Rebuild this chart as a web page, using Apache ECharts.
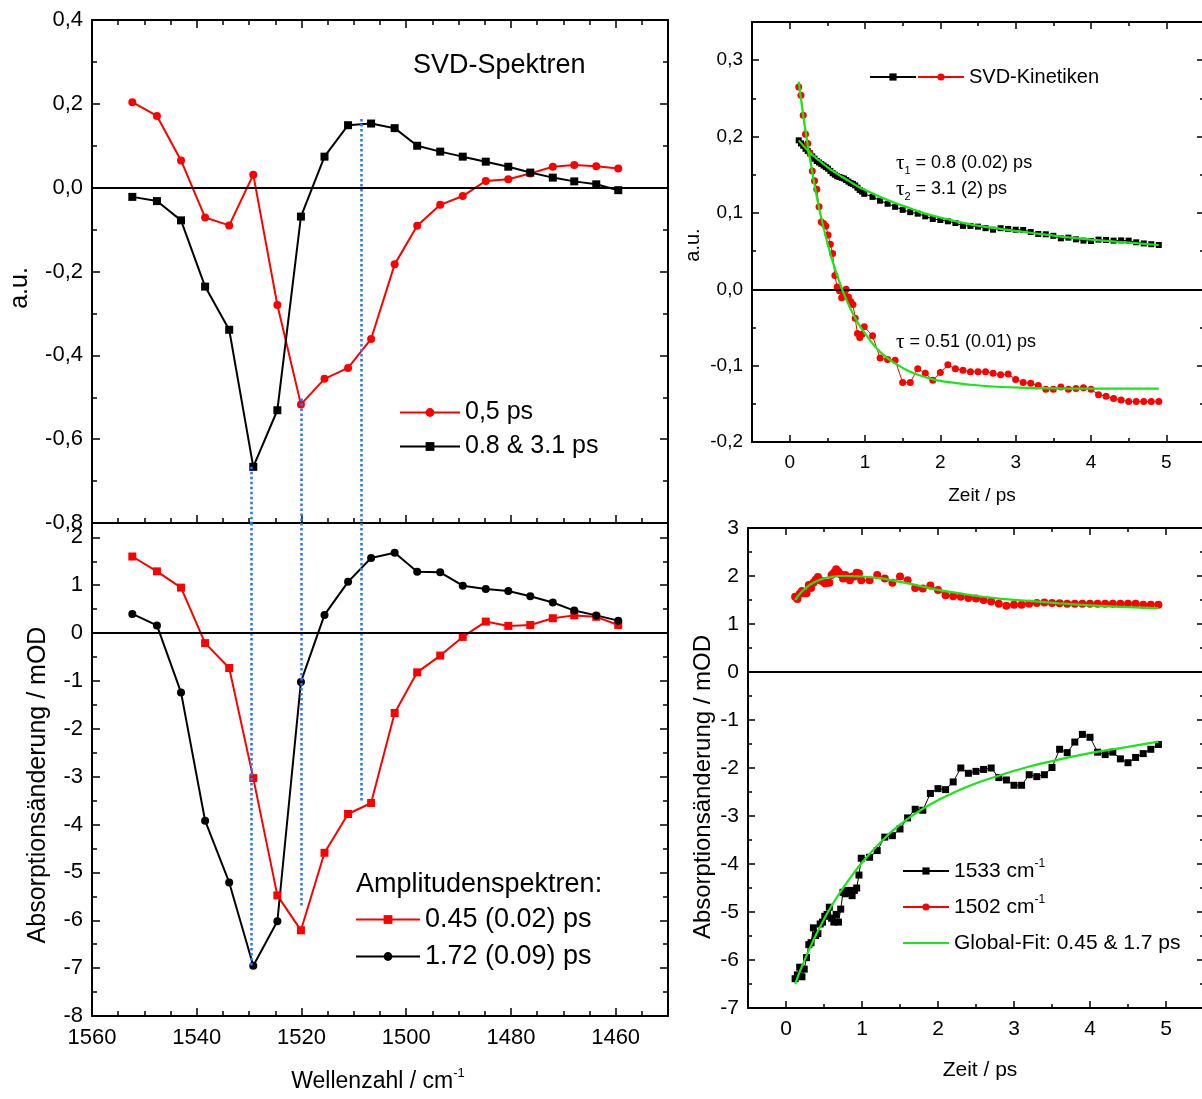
<!DOCTYPE html>
<html>
<head>
<meta charset="utf-8">
<script src="https://cdn.jsdelivr.net/npm/echarts@6/dist/echarts.min.js"></script>
<style>
html,body{margin:0;padding:0;background:#fff;}
#chart{width:1202px;height:1099px;}
</style>
</head>
<body>
<div id="chart"></div>
<script>
// ---------- data ----------
const wavenumber = [1552.3, 1547.6, 1543.0, 1538.4, 1533.8, 1529.2, 1524.6, 1520.1, 1515.6, 1511.1, 1506.7,
  1502.2, 1497.9, 1493.5, 1489.2, 1484.8, 1480.5, 1476.3, 1472.0, 1467.9, 1463.7, 1459.5];
const svdSpec05 = [0.204, 0.171, 0.065, -0.071, -0.090, 0.031, -0.280, -0.517, -0.456, -0.430, -0.361,
  -0.183, -0.091, -0.041, -0.020, 0.016, 0.020, 0.034, 0.050, 0.054, 0.051, 0.046];
const svdSpec08 = [-0.022, -0.032, -0.078, -0.236, -0.339, -0.666, -0.531, -0.069, 0.074, 0.149, 0.153,
  0.142, 0.100, 0.086, 0.074, 0.062, 0.050, 0.036, 0.024, 0.015, 0.008, -0.006];
const amp045 = [1.60, 1.29, 0.95, -0.21, -0.73, -3.03, -5.48, -6.21, -4.59, -3.78, -3.55,
  -1.67, -0.82, -0.47, -0.08, 0.24, 0.15, 0.17, 0.31, 0.37, 0.34, 0.17];
const amp172 = [0.40, 0.16, -1.24, -3.92, -5.21, -6.95, -6.02, -1.02, 0.38, 1.07, 1.57,
  1.68, 1.28, 1.27, 0.99, 0.92, 0.88, 0.77, 0.64, 0.47, 0.37, 0.26];

// dotted guide lines: wavenumber, start in upper panel, end in lower panel
const dropWn = [1529.5, 1520.0, 1508.6];
const dropTopFrom = [-0.666, -0.503, 0.164];
const dropBottomTo = [-6.95, -5.73, -3.50];

const kinTime = [0.12,0.15,0.18,0.21,0.24,0.27,0.30,0.33,0.36,0.39,0.42,0.45,0.48,0.51,0.54,0.57,0.60,0.63,
  0.66,0.69,0.72,0.75,0.78,0.81,0.84,0.87,0.90,0.93,0.96,0.99,
  1.1,1.2,1.3,1.4,1.5,1.6,1.7,1.8,1.9,2.0,2.1,2.2,2.3,2.4,2.5,2.6,2.7,2.8,2.9,3.0,
  3.1,3.2,3.3,3.4,3.5,3.6,3.7,3.8,3.9,4.0,4.1,4.2,4.3,4.4,4.5,4.6,4.7,4.8,4.9];
const svdKinBlack = [0.195,0.191,0.188,0.184,0.181,0.178,0.174,0.171,0.168,0.166,0.164,0.162,0.160,0.158,0.155,
  0.152,0.150,0.148,0.147,0.146,0.145,0.143,0.141,0.139,0.138,0.136,0.133,0.130,0.128,0.125,
  0.121,0.116,0.112,0.108,0.104,0.101,0.099,0.0955,0.092,0.0907,0.089,0.0868,0.083,0.083,0.082,
  0.080,0.078,0.080,0.079,0.078,0.0776,0.075,0.0724,0.072,0.070,0.0667,0.0676,0.0654,0.0637,0.0632,
  0.065,0.0645,0.0637,0.064,0.0637,0.0615,0.060,0.059,0.058];
const svdKinRed = [0.265,0.254,0.228,0.203,0.191,0.178,0.155,0.142,0.131,0.108,0.088,0.086,0.083,0.071,0.059,
  0.047,0.018,0.003,-0.002,-0.011,-0.005,0.000,-0.010,-0.016,-0.020,-0.038,-0.058,-0.063,-0.059,-0.049,
  -0.061,-0.090,-0.092,-0.093,-0.122,-0.122,-0.104,-0.110,-0.119,-0.109,-0.099,-0.104,-0.106,-0.108,-0.108,
  -0.108,-0.110,-0.112,-0.111,-0.118,-0.122,-0.123,-0.126,-0.131,-0.131,-0.128,-0.131,-0.130,-0.129,-0.131,
  -0.138,-0.140,-0.143,-0.145,-0.147,-0.147,-0.147,-0.147,-0.147];
const kin1502 = [1.57,1.52,1.63,1.69,1.64,1.64,1.81,1.75,1.86,1.92,1.98,1.91,1.89,1.85,1.86,1.86,2.02,2.07,
  2.14,2.09,2.03,1.95,2.02,1.96,1.91,1.99,1.99,2.07,2.05,1.91,
  1.91,2.02,1.95,1.86,1.99,1.91,1.75,1.74,1.80,1.71,1.60,1.58,1.57,1.54,1.53,1.50,1.47,1.42,1.38,1.40,
  1.40,1.42,1.44,1.45,1.44,1.43,1.42,1.42,1.42,1.42,1.42,1.42,1.42,1.42,1.42,1.42,1.40,1.40,1.40];
const kin1533 = [-6.39,-6.31,-6.15,-6.35,-6.19,-5.95,-5.68,-5.64,-5.33,-5.49,-5.45,-5.25,-5.21,-5.09,-5.05,
  -4.90,-5.13,-5.21,-5.05,-5.21,-4.94,-4.59,-4.62,-4.55,-4.59,-4.66,-4.55,-4.50,-4.23,-3.88,
  -3.86,-3.72,-3.44,-3.41,-3.27,-3.04,-2.86,-2.88,-2.53,-2.43,-2.45,-2.29,-2.00,-2.11,-2.07,-2.03,-2.00,
  -2.20,-2.25,-2.36,-2.36,-2.14,-2.18,-2.14,-1.99,-1.61,-1.68,-1.46,-1.30,-1.36,-1.67,-1.72,-1.67,-1.81,
  -1.89,-1.78,-1.70,-1.61,-1.51];

const fitTime = [0.12,0.2,0.3,0.4,0.5,0.6,0.7,0.8,0.9,1.0,1.2,1.4,1.6,1.8,2.0,2.4,2.8,3.2,3.6,4.0,4.5,4.9];
const svdFitRed = [0.272,0.214,0.153,0.102,0.061,0.027,-0.001,-0.024,-0.043,-0.058,-0.082,-0.097,-0.108,
  -0.115,-0.120,-0.125,-0.128,-0.129,-0.130,-0.130,-0.130,-0.130];
const svdFitBlack = [0.195,0.186,0.176,0.168,0.160,0.153,0.147,0.141,0.135,0.130,0.121,0.113,0.106,0.099,
  0.094,0.085,0.079,0.074,0.069,0.065,0.061,0.058];
const fit1533 = [-6.50,-6.17,-5.80,-5.46,-5.15,-4.87,-4.62,-4.39,-4.17,-3.97,-3.62,-3.31,-3.06,-2.85,-2.67,
  -2.38,-2.16,-1.97,-1.82,-1.69,-1.56,-1.45];
const fit1502 = [1.50,1.66,1.80,1.89,1.95,1.98,2.00,2.00,1.995,1.99,1.96,1.91,1.85,1.78,1.71,1.61,1.53,1.48,
  1.43,1.39,1.35,1.33];

// ---------- helpers ----------
const FONT = "'Liberation Sans', Arial, Helvetica, sans-serif";
const RED = '#ff0000', BLACK = '#000000', GREEN = '#16e816', BLUE = '#2f74ff';
const zip = (xs, ys) => xs.map((x, i) => [x, ys[i]]);
const isMult = (v, step) => Math.abs(v / step - Math.round(v / step)) < 1e-6;
const comma = v => v.toFixed(1).replace('.', ',');

function axisBase(o) {
  return Object.assign({
    type: 'value',
    axisLine: { show: true, onZero: false, lineStyle: { color: BLACK, width: 2 } },
    axisTick: { show: true, inside: true, length: 8, lineStyle: { color: BLACK, width: 1.5 } },
    minorTick: { show: true, splitNumber: 2, length: 5, lineStyle: { color: BLACK, width: 1.5 } },
    splitLine: { show: false },
    minorSplitLine: { show: false },
    axisLabel: { show: false }
  }, o);
}

const wnAxis = { min: 1450, max: 1560, inverse: true, minInterval: 20, maxInterval: 20, splitNumber: 5 };
const tAxis = { min: -0.5, max: 5.5, minInterval: 1, maxInterval: 1, splitNumber: 6 };
const wnMinor = { show: true, splitNumber: 4, length: 5, lineStyle: { color: BLACK, width: 1.5 } };
const rMajor = { show: true, inside: true, length: 7, lineStyle: { color: BLACK, width: 1.5 } };
const rMinor = { show: true, splitNumber: 2, length: 4, lineStyle: { color: BLACK, width: 1.5 } };

const xAxis = [
  axisBase(Object.assign({ gridIndex: 0, position: 'bottom' }, wnAxis, { minorTick: wnMinor })),
  axisBase(Object.assign({ gridIndex: 0, position: 'top' }, wnAxis, { minorTick: wnMinor })),
  axisBase(Object.assign({ gridIndex: 1, position: 'bottom' }, wnAxis, {
    minorTick: wnMinor,
    axisLabel: { show: true, fontSize: 22, color: BLACK, fontFamily: FONT, margin: 11,
      formatter: v => isMult(v, 20) ? String(Math.round(v)) : '' }
  })),
  axisBase(Object.assign({ gridIndex: 1, position: 'top' }, wnAxis, {
    axisTick: { show: false }, minorTick: { show: false } })),
  axisBase(Object.assign({ gridIndex: 2, position: 'bottom' }, tAxis, {
    axisTick: rMajor, minorTick: rMinor,
    axisLabel: { show: true, fontSize: 19, color: BLACK, fontFamily: FONT, margin: 11,
      formatter: v => isMult(v, 1) ? String(Math.round(v)) : '' }
  })),
  axisBase(Object.assign({ gridIndex: 2, position: 'top' }, tAxis, { axisTick: rMajor, minorTick: rMinor })),
  axisBase(Object.assign({ gridIndex: 3, position: 'bottom' }, tAxis, {
    axisTick: rMajor, minorTick: rMinor,
    axisLabel: { show: true, fontSize: 21, color: BLACK, fontFamily: FONT, margin: 11,
      formatter: v => isMult(v, 1) ? String(Math.round(v)) : '' }
  })),
  axisBase(Object.assign({ gridIndex: 3, position: 'top' }, tAxis, { axisTick: rMajor, minorTick: rMinor }))
];

const tlY = { min: -0.8, max: 0.4, interval: 0.2 };
const blY = { min: -8, max: 2.3, minInterval: 1, maxInterval: 1, splitNumber: 10 };
const trY = { min: -0.2, max: 0.35, minInterval: 0.1, maxInterval: 0.1, splitNumber: 5 };
const brY = { min: -7, max: 3, interval: 1 };
const rTick = { axisTick: rMajor, minorTick: rMinor };

const yAxis = [
  axisBase(Object.assign({ gridIndex: 0, position: 'left' }, tlY, {
    axisLabel: { show: true, fontSize: 22, color: BLACK, fontFamily: FONT, margin: 9, formatter: v => comma(v) } })),
  axisBase(Object.assign({ gridIndex: 0, position: 'right' }, tlY)),
  axisBase(Object.assign({ gridIndex: 1, position: 'left' }, blY, {
    axisLabel: { show: true, fontSize: 22, color: BLACK, fontFamily: FONT, margin: 9,
      formatter: v => isMult(v, 1) ? String(Math.round(v)) : '' } })),
  axisBase(Object.assign({ gridIndex: 1, position: 'right' }, blY)),
  axisBase(Object.assign({ gridIndex: 2, position: 'left' }, trY, rTick, {
    axisLabel: { show: true, fontSize: 19, color: BLACK, fontFamily: FONT, margin: 9,
      formatter: v => isMult(v, 0.1) ? comma(v) : '' } })),
  axisBase(Object.assign({ gridIndex: 2, position: 'right' }, trY, rTick)),
  axisBase(Object.assign({ gridIndex: 3, position: 'left' }, brY, rTick, {
    axisLabel: { show: true, fontSize: 21, color: BLACK, fontFamily: FONT, margin: 9,
      formatter: v => String(Math.round(v)) } })),
  axisBase(Object.assign({ gridIndex: 3, position: 'right' }, brY, rTick))
];

const markBase = { silent: true, symbol: ['none', 'none'], label: { show: false }, animation: false };
const zeroMark = Object.assign({}, markBase, {
  lineStyle: { color: BLACK, width: 2, type: 'solid' }, data: [{ yAxis: 0 }] });
const dotStyle = { color: BLUE, width: 2.6, type: [2.5, 2.5], opacity: 1 };
const topDrops = Object.assign({}, markBase, { lineStyle: dotStyle,
  data: dropWn.map((w, i) => [{ coord: [w, dropTopFrom[i]] }, { coord: [w, -0.8] }]) });
const botDrops = Object.assign({}, markBase, { lineStyle: dotStyle,
  data: dropWn.map((w, i) => [{ coord: [w, 2.3] }, { coord: [w, dropBottomTo[i]] }]) });

function lineSeries(name, xi, yi, data, color, symbol, size, width, extra) {
  return Object.assign({
    type: 'line', name, xAxisIndex: xi, yAxisIndex: yi, data,
    symbol, symbolSize: size, showSymbol: true,
    lineStyle: { color, width }, itemStyle: { color },
    animation: false, clip: false
  }, extra || {});
}
function fitSeries(name, xi, yi, data) {
  return { type: 'line', name, xAxisIndex: xi, yAxisIndex: yi, data, symbol: 'none', showSymbol: false,
    smooth: 0.4, lineStyle: { color: GREEN, width: 2.2 }, itemStyle: { color: GREEN }, animation: false, z: 5 };
}

const series = [
  lineSeries('0,5 ps', 0, 0, zip(wavenumber, svdSpec05), RED, 'circle', 8, 2, { markLine: topDrops }),
  lineSeries('0.8 & 3.1 ps', 0, 0, zip(wavenumber, svdSpec08), BLACK, 'rect', 8, 2, { markLine: zeroMark }),
  lineSeries('0.45 (0.02) ps', 2, 2, zip(wavenumber, amp045), RED, 'rect', 8, 2, { markLine: botDrops }),
  lineSeries('1.72 (0.09) ps', 2, 2, zip(wavenumber, amp172), BLACK, 'circle', 8, 2, { markLine: zeroMark }),
  lineSeries('SVD-Kinetiken-s', 4, 4, zip(kinTime, svdKinBlack), BLACK, 'rect', 6, 1, { markLine: zeroMark }),
  lineSeries('SVD-Kinetiken', 4, 4, zip(kinTime, svdKinRed), RED, 'circle', 7, 1),
  fitSeries('fitA', 4, 4, zip(fitTime, svdFitBlack)),
  fitSeries('fitB', 4, 4, zip(fitTime, svdFitRed)),
  lineSeries('1533', 6, 6, zip(kinTime, kin1533), BLACK, 'rect', 7, 1, { markLine: zeroMark }),
  lineSeries('1502', 6, 6, zip(kinTime, kin1502), RED, 'circle', 8, 1),
  fitSeries('Global-Fit: 0.45 & 1.7 ps', 6, 6, zip(fitTime, fit1533)),
  fitSeries('fitC', 6, 6, zip(fitTime, fit1502))
];

const legend = [
  { left: 399, top: 400, orient: 'vertical', itemWidth: 60, itemHeight: 11, itemGap: 9, padding: 0,
    selectedMode: false, textStyle: { fontSize: 25, color: BLACK, fontFamily: FONT },
    data: ['0,5 ps', '0.8 & 3.1 ps'] },
  { left: 355, top: 906, orient: 'vertical', itemWidth: 64, itemHeight: 11, itemGap: 10, padding: 0,
    selectedMode: false, textStyle: { fontSize: 27, color: BLACK, fontFamily: FONT },
    data: ['0.45 (0.02) ps', '1.72 (0.09) ps'] },
  { left: 869, top: 67, orient: 'horizontal', itemWidth: 46, itemHeight: 9, itemGap: 0, padding: 0,
    selectedMode: false, textStyle: { fontSize: 20, color: BLACK, fontFamily: FONT },
    formatter: n => n === 'SVD-Kinetiken' ? n : '',
    data: ['SVD-Kinetiken-s', 'SVD-Kinetiken'] },
  { left: 902, top: 858, orient: 'vertical', itemWidth: 46, itemHeight: 9, itemGap: 10, padding: 0,
    selectedMode: false,
    textStyle: { fontSize: 21, color: BLACK, fontFamily: FONT, lineHeight: 26,
      rich: { sup: { fontSize: 12, lineHeight: 12, verticalAlign: 'top', fontFamily: FONT, color: BLACK } } },
    formatter: n => (n === '1533' || n === '1502') ? n + ' cm{sup|-1}' : n,
    data: ['1533', '1502', { name: 'Global-Fit: 0.45 & 1.7 ps', itemStyle: { opacity: 0 } }] }
];

const supRich = size => ({ sup: { fontSize: size, lineHeight: size, verticalAlign: 'top', fontFamily: FONT, fill: BLACK, color: BLACK } });
const tauRich = {
  t: { fontFamily: "'Liberation Serif', 'Times New Roman', serif", fontSize: 21, lineHeight: 26 },
  s: { fontFamily: FONT, fontSize: 11, lineHeight: 11, verticalAlign: 'bottom' },
  n: { fontFamily: FONT, fontSize: 18, lineHeight: 26 }
};

function txt(x, y, text, size, extra) {
  return { type: 'text', x, y, silent: true, z: 100,
    style: Object.assign({ text, fontSize: size, fontFamily: FONT, fill: BLACK, align: 'left', verticalAlign: 'middle' }, extra || {}) };
}
function vtxt(x, y, text, size) {
  return { type: 'text', x, y, rotation: Math.PI / 2, silent: true, z: 100,
    style: { text, fontSize: size, fontFamily: FONT, fill: BLACK, align: 'center', verticalAlign: 'middle' } };
}

const graphic = [
  txt(413, 66, 'SVD-Spektren', 27),
  txt(356, 885, 'Amplitudenspektren:', 27),
  vtxt(20, 288, 'a.u.', 25),
  vtxt(38, 785, 'Absorptionsänderung / mOD', 25),
  txt(378, 1082, 'Wellenzahl / cm{sup|-1}', 23, { align: 'center', lineHeight: 30, rich: supRich(13) }),
  vtxt(693, 245, 'a.u.', 20),
  txt(982, 496, 'Zeit / ps', 19, { align: 'center' }),
  vtxt(703, 787, 'Absorptionsänderung / mOD', 24),
  txt(980, 1070, 'Zeit / ps', 21, { align: 'center' }),
  txt(896, 163, '{t|τ}{s|1}{n| = 0.8 (0.02) ps}', 18, { rich: tauRich }),
  txt(896, 189, '{t|τ}{s|2}{n| = 3.1 (2) ps}', 18, { rich: tauRich }),
  txt(896, 342, '{t|τ}{n| = 0.51 (0.01) ps}', 18, { rich: tauRich })
];

const option = {
  animation: false,
  backgroundColor: '#ffffff',
  textStyle: { fontFamily: FONT, color: BLACK },
  grid: [
    { left: 92, top: 20, width: 576, height: 503, outerBoundsMode: 'none' },
    { left: 92, top: 523, width: 576, height: 493, outerBoundsMode: 'none' },
    { left: 752, top: 22, width: 452, height: 420, outerBoundsMode: 'none' },
    { left: 748, top: 528, width: 456, height: 480, outerBoundsMode: 'none' }
  ],
  xAxis, yAxis, series, legend, graphic
};

const chart = echarts.init(document.getElementById('chart'), null, { renderer: 'canvas' });
chart.setOption(option);
</script>
</body>
</html>
